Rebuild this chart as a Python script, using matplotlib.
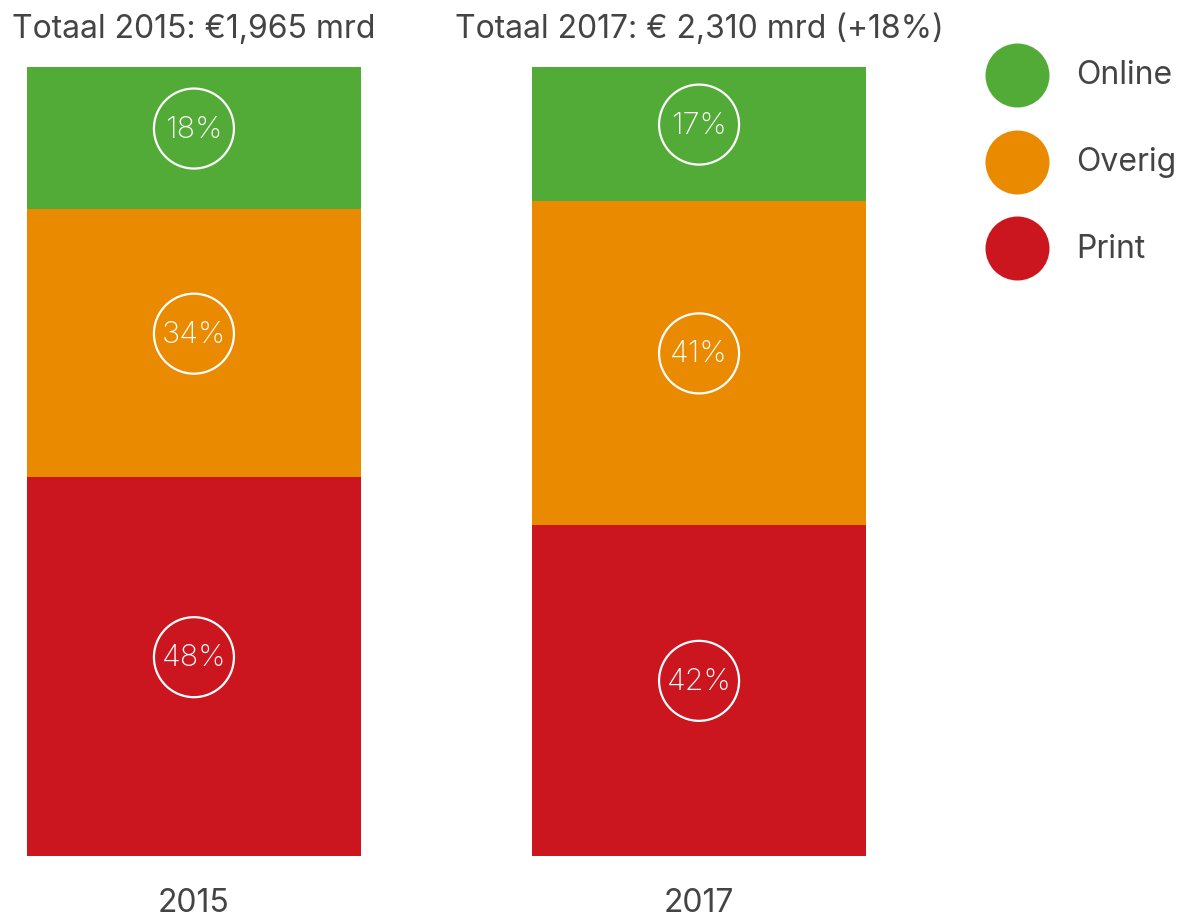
import matplotlib
matplotlib.use("Agg")
import matplotlib.pyplot as plt
import numpy as np

plt.rcParams['font.family'] = ['Inter', 'DejaVu Sans']

years = ['2015', '2017']
titles = ['Totaal 2015: €1,965 mrd', 'Totaal 2017: € 2,310 mrd (+18%)']
categories = ['Print', 'Overig', 'Online']          # bottom to top
shares = {
    'Print':  [48, 42],
    'Overig': [34, 41],
    'Online': [18, 17],
}
colors = {'Online': '#52ab37', 'Overig': '#ea8a00', 'Print': '#cb151f'}
legend_order = ['Online', 'Overig', 'Print']
textcol = '#444444'

fig = plt.figure(figsize=(11.82, 9.2), dpi=100)
ax = fig.add_axes([27 / 1182, 63 / 920, 839 / 1182, 789 / 920])

x = np.arange(len(years))
w = 0.661
bottom = np.zeros(len(years))
for cat in categories:
    vals = np.array(shares[cat], dtype=float)
    ax.bar(x, vals, w, bottom=bottom, color=colors[cat], linewidth=0)
    mids = bottom + vals / 2 + 1.2
    ax.scatter(x, mids, s=3318, facecolor='none', edgecolor='white', linewidth=1.6, zorder=3)
    for xi, m, v in zip(x, mids, vals):
        ax.text(xi, m, f'{int(v)}%', color='white', ha='center', va='center',
                fontsize=22, fontweight='light', zorder=4)
    bottom += vals

ax.set_xlim(-w / 2, 1 + w / 2)
ax.set_ylim(0, 100)
ax.axis('off')

for xi, yr, t in zip(x, years, titles):
    ax.text(xi, 102.9, t, ha='center', va='bottom', fontsize=23, color=textcol)
    ax.text(xi, -3.9, yr, ha='center', va='top', fontsize=23, color=textcol)

# legend in pixel coordinates
lax = fig.add_axes([0, 0, 1, 1])
lax.set_xlim(0, 1182)
lax.set_ylim(920, 0)
lax.axis('off')
for i, cat in enumerate(legend_order):
    yc = 76 + i * 86.5
    lax.scatter([1017], [yc], s=2123, color=colors[cat], linewidth=0)
    lax.text(1076, yc, cat, va='center', ha='left', fontsize=23, color=textcol)

fig.savefig('out.png', dpi=100)
